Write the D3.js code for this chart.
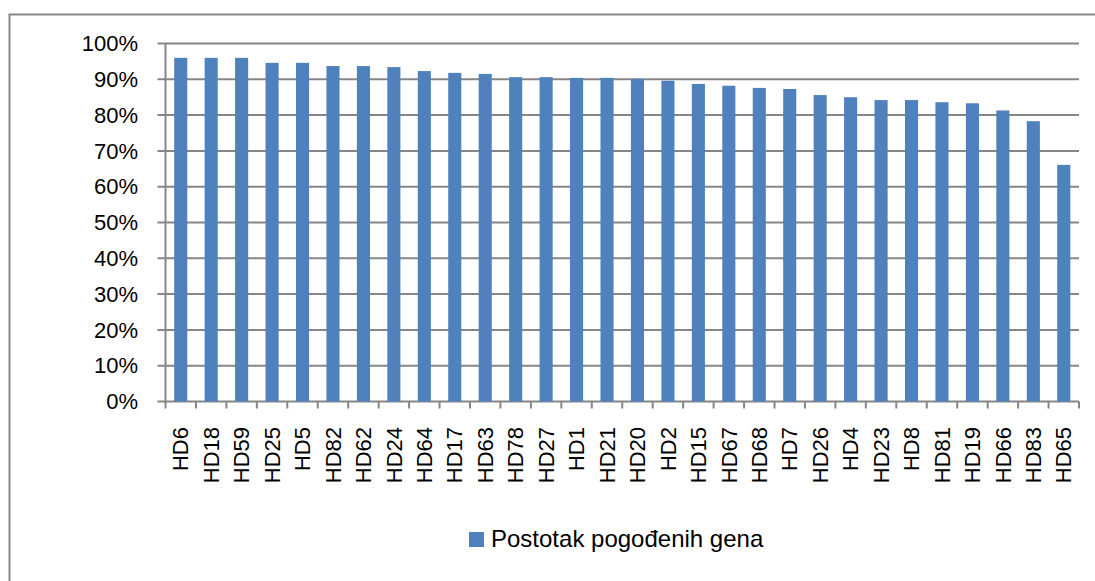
<!DOCTYPE html>
<html>
<head>
<meta charset="utf-8">
<title>Postotak pogođenih gena</title>
<script src="https://d3js.org/d3.v7.min.js"></script>
<style>
  body { margin: 0; background: #fff; }
  svg { display: block; font-family: "Liberation Sans", Arial, sans-serif; }
</style>
</head>
<body>
<svg id="chart" width="1095" height="581"></svg>
<script>
var categories = ['HD6','HD18','HD59','HD25','HD5','HD82','HD62','HD24','HD64','HD17',
  'HD63','HD78','HD27','HD1','HD21','HD20','HD2','HD15','HD67','HD68',
  'HD7','HD26','HD4','HD23','HD8','HD81','HD19','HD66','HD83','HD65']
var values = [96.0, 96.0, 96.0, 94.6, 94.6, 93.7, 93.7, 93.4, 92.3, 91.8,
  91.5, 90.6, 90.6, 90.4, 90.4, 90.1, 89.6, 88.7, 88.2, 87.6,
  87.3, 85.6, 85.0, 84.2, 84.2, 83.6, 83.3, 81.3, 78.3, 66.1]
var yTicks = [0, 10, 20, 30, 40, 50, 60, 70, 80, 90, 100]
var seriesName = 'Postotak pogođenih gena'

var svg = d3.select('#chart')
var plotLeft = 165.5, plotRight = 1079, plotTop = 43.5, plotBottom = 401.5
var barColor = '#4F81BD', gridColor = '#868686'

// outer border (only left and top edges are inside the picture)
svg.append('path')
  .attr('d', 'M9.5,581V14.5H1095')
  .attr('fill', 'none').attr('stroke', '#888').attr('stroke-width', 2)

var x = d3.scaleBand().domain(categories).range([plotLeft, plotRight]).paddingInner(0.57).paddingOuter(0.285)
var y = d3.scaleLinear().domain([0, 100]).range([plotBottom, plotTop])

// gridlines
svg.append('g').selectAll('line')
  .data(yTicks)
  .enter().append('line')
  .attr('x1', plotLeft - 8).attr('x2', plotRight)
  .attr('y1', (d) => y(d)).attr('y2', (d) => y(d))
  .attr('stroke', gridColor).attr('stroke-width', 2)

// y labels
svg.append('g').selectAll('text')
  .data(yTicks)
  .enter().append('text')
  .attr('x', 138).attr('y', (d) => y(d))
  .attr('dy', '0.35em')
  .attr('text-anchor', 'end')
  .style('font-size', '22px')
  .attr('fill', '#000')
  .text((d) => d + '%')

// bars
svg.append('g').selectAll('rect')
  .data(values)
  .enter().append('rect')
  .attr('x', (d, i) => x(categories[i]))
  .attr('width', x.bandwidth())
  .attr('y', (d) => y(d))
  .attr('height', (d) => y(0) - y(d))
  .attr('fill', barColor)

// axis lines
svg.append('line')
  .attr('x1', plotLeft).attr('x2', plotLeft).attr('y1', plotTop).attr('y2', plotBottom)
  .attr('stroke', gridColor).attr('stroke-width', 2)

var step = (plotRight - plotLeft) / categories.length
svg.append('g').selectAll('line')
  .data(d3.range(categories.length + 1))
  .enter().append('line')
  .attr('x1', (d) => plotLeft + d * step).attr('x2', (d) => plotLeft + d * step)
  .attr('y1', plotBottom).attr('y2', plotBottom + 7)
  .attr('stroke', gridColor).attr('stroke-width', 2)

// x labels
svg.append('g').selectAll('text')
  .data(categories)
  .enter().append('text')
  .attr('transform', (d) => 'translate(' + (x(d) + x.bandwidth() / 2) + ',427) rotate(-90)')
  .attr('dy', '0.35em')
  .attr('text-anchor', 'end')
  .style('font-size', '22px')
  .attr('fill', '#000')
  .text((d) => d)

// legend
svg.append('rect')
  .attr('x', 469).attr('y', 532).attr('width', 15).attr('height', 15)
  .attr('fill', barColor)
svg.append('text')
  .attr('x', 491).attr('y', 547)
  .style('font-size', '24px')
  .attr('fill', '#000')
  .text(seriesName)
</script>
</body>
</html>
